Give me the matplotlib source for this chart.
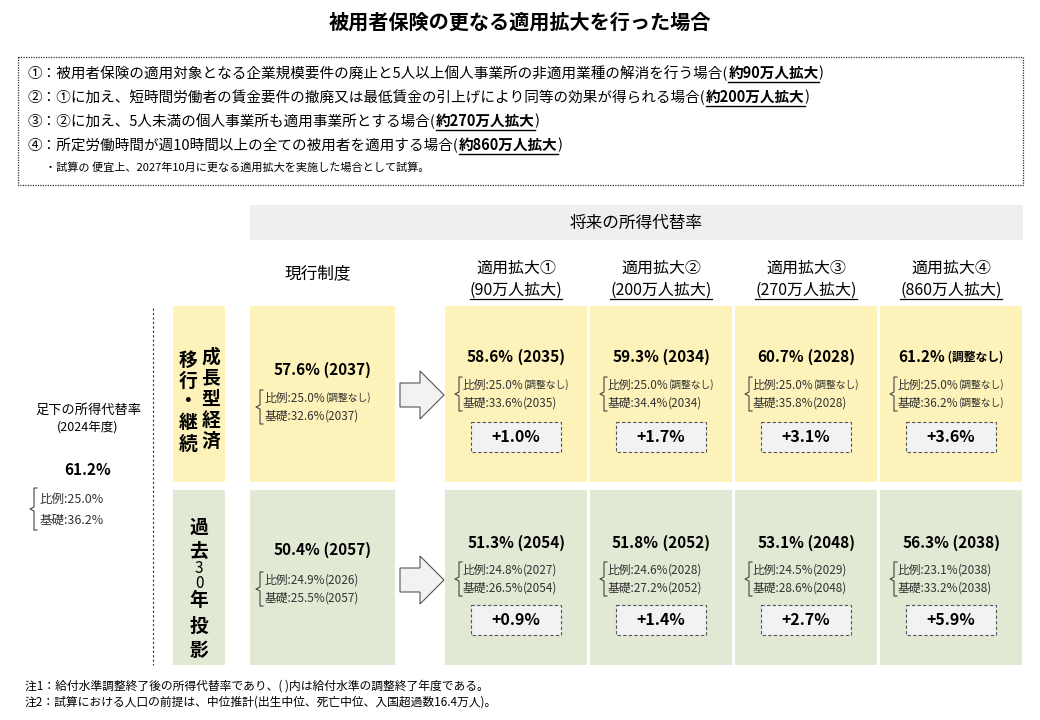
import matplotlib
matplotlib.use("Agg")
import matplotlib.pyplot as plt
from matplotlib.patches import Rectangle, Polygon
from matplotlib.transforms import IdentityTransform, blended_transform_factory

plt.rcParams['font.family'] = ['Noto Sans CJK JP', 'DejaVu Sans']

title = "被用者保険の更なる適用拡大を行った場合"
conditions = [
    ("①：被用者保険の適用対象となる企業規模要件の廃止と5人以上個人事業所の非適用業種の解消を行う場合(", "約90万人拡大", ")"),
    ("②：①に加え、短時間労働者の賃金要件の撤廃又は最低賃金の引上げにより同等の効果が得られる場合(", "約200万人拡大", ")"),
    ("③：②に加え、5人未満の個人事業所も適用事業所とする場合(", "約270万人拡大", ")"),
    ("④：所定労働時間が週10時間以上の全ての被用者を適用する場合(", "約860万人拡大", ")"),
]
cond_note = "・試算の 便宜上、2027年10月に更なる適用拡大を実施した場合として試算。"
col_heads = ["適用拡大①", "適用拡大②", "適用拡大③", "適用拡大④"]
col_subs = ["90万人拡大", "200万人拡大", "270万人拡大", "860万人拡大"]

cur_main = ["57.6%", "50.4%"]
cur_main_yr = ["(2037)", "(2057)"]
cur_hirei = [("25.0%", "(調整なし)"), ("24.9%", "(2026)")]
cur_kiso = [("32.6%", "(2037)"), ("25.5%", "(2057)")]

main_val = [["58.6%", "59.3%", "60.7%", "61.2%"], ["51.3%", "51.8%", "53.1%", "56.3%"]]
main_yr = [["(2035)", "(2034)", "(2028)", "(調整なし)"], ["(2054)", "(2052)", "(2048)", "(2038)"]]
hirei_val = [["25.0%"] * 4, ["24.8%", "24.6%", "24.5%", "23.1%"]]
hirei_yr = [["(調整なし)"] * 4, ["(2027)", "(2028)", "(2029)", "(2038)"]]
kiso_val = [["33.6%", "34.4%", "35.8%", "36.2%"], ["26.5%", "27.2%", "28.6%", "33.2%"]]
kiso_yr = [["(2035)", "(2034)", "(2028)", "(調整なし)"], ["(2054)", "(2052)", "(2048)", "(2038)"]]
diffs = [["+1.0%", "+1.7%", "+3.1%", "+3.6%"], ["+0.9%", "+1.4%", "+2.7%", "+5.9%"]]

base_rate = "61.2%"
base_hirei = "比例:25.0%"
base_kiso = "基礎:36.2%"
notes = ["注1：給付水準調整終了後の所得代替率であり、( )内は給付水準の調整終了年度である。",
         "注2：試算における人口の前提は、中位推計(出生中位、死亡中位、入国超過数16.4万人)。"]

YEL = "#fdf2b9"
GRN = "#e1e8d3"

fig = plt.figure(figsize=(10.4, 7.2), dpi=100)
ax = fig.add_axes([0, 0, 1, 1])
ax.set_xlim(0, 1040)
ax.set_ylim(720, 0)
ax.axis("off")
fig.canvas.draw()
I = IdentityTransform()

ax.text(520, 22, title, ha="center", va="center", fontsize=14.5, fontweight="bold")
ax.add_patch(Rectangle((18, 57), 1005, 128, fill=False, ls=(0, (1, 1)), lw=0.9, ec="#333"))
for i, (a, b, c) in enumerate(conditions):
    y = 73 + i * 24
    py = ax.transData.transform((0, y))[1]
    t = ax.text(28, y, a, ha="left", va="center", fontsize=10.5)
    fig.canvas.draw()
    x1 = t.get_window_extent().x1
    t2 = ax.text(x1, py, b, ha="left", va="center", fontsize=10.5, fontweight="bold", transform=I)
    fig.canvas.draw()
    bb2 = t2.get_window_extent()
    ax.plot([bb2.x0, bb2.x1], [y + 9, y + 9], color="k", lw=1,
            transform=blended_transform_factory(I, ax.transData))
    ax.text(bb2.x1, py, c, ha="left", va="center", fontsize=10.5, transform=I)
ax.text(45, 167, cond_note, ha="left", va="center", fontsize=8)

ax.add_patch(Rectangle((250, 205), 773, 35, fc="#efefef", ec="none"))
ax.text(636, 223, "将来の所得代替率", ha="center", va="center", fontsize=12)
ax.text(318, 274, "現行制度", ha="center", va="center", fontsize=12)

col_x = [445, 590, 735, 880]
col_w = 142
for j in range(4):
    cx = col_x[j] + col_w / 2
    ax.text(cx, 268, col_heads[j], ha="center", va="center", fontsize=11.5)
    t = ax.text(cx, 290, "(" + col_subs[j] + ")", ha="center", va="center", fontsize=11.5)
    fig.canvas.draw()
    bb = t.get_window_extent()
    ax.plot([bb.x0, bb.x1], [299, 299], color="k", lw=0.9,
            transform=blended_transform_factory(I, ax.transData))

rows_y = [(306, 176), (490, 175)]
fills = [YEL, GRN]

ax.text(88, 410, "足下の所得代替率", ha="center", va="center", fontsize=9.5)
ax.text(88, 428, "(2024年度)", ha="center", va="center", fontsize=9)
ax.text(88, 470, base_rate, ha="center", va="center", fontsize=11, fontweight="bold")

def brace(x, y0, y1, lw=0.8):
    ym = (y0 + y1) / 2
    ax.plot([x + 5, x + 2, x + 2, x - 2, x + 2, x + 2, x + 5],
            [y0, y0, ym - 2, ym, ym + 2, y1, y1], color="#444", lw=lw)

brace(32, 488, 530)
ax.text(40, 499, base_hirei, ha="left", va="center", fontsize=9, color="#333")
ax.text(40, 520, base_kiso, ha="left", va="center", fontsize=9, color="#333")

ax.plot([153, 153], [308, 665], color="#333", lw=0.8, ls=(0, (2, 2)))

for r in range(2):
    y0, h = rows_y[r]
    ax.add_patch(Rectangle((173, y0), 52, h, fc=fills[r], ec="none"))
    ax.add_patch(Rectangle((250, y0), 145, h, fc=fills[r], ec="none"))
    for j in range(4):
        ax.add_patch(Rectangle((col_x[j], y0), col_w, h, fc=fills[r], ec="none"))

for k, ch in enumerate("成長型経済"):
    ax.text(211, 357 + k * 21, ch, ha="center", va="center", fontsize=13.5, fontweight="bold")
for k, ch in enumerate("移行・継続"):
    ax.text(188, 360 + k * 21, ch, ha="center", va="center", fontsize=13.5, fontweight="bold")
vert = ["過", "去", "30", "年", "投", "影"]
vert_y = [527, 551, 576, 601, 626, 650]
for ch, yy in zip(vert, vert_y):
    if ch == "30":
        ax.text(199, yy, "3\n0", ha="center", va="center", fontsize=11, linespacing=0.85)
    else:
        ax.text(199, yy, ch, ha="center", va="center", fontsize=13.5, fontweight="bold")

def main_label(cx, y, val, yr):
    small = yr == "(調整なし)"
    t1 = ax.text(0, 0, val, fontsize=11, fontweight="bold")
    t2 = ax.text(0, 0, " " + yr, fontsize=8.5 if small else 11, fontweight="bold")
    fig.canvas.draw()
    w1 = t1.get_window_extent().width
    w2 = t2.get_window_extent().width
    pcx, py = ax.transData.transform((cx, y))
    x0 = pcx - (w1 + w2) / 2
    for t, xx in ((t1, x0), (t2, x0 + w1)):
        t.set_transform(I)
        t.set_position((xx, py))
        t.set_va("center")
        t.set_ha("left")

cur_layout = [(370, 398, 416), (550, 580, 598)]
for r in range(2):
    ym, yh, yk = cur_layout[r]
    main_label(322, ym, cur_main[r], cur_main_yr[r])
    brace(258, yh - 8, yk + 8)
    ax.text(265, yh, "比例:" + cur_hirei[r][0], ha="left", va="center", fontsize=8.5, color="#333")
    ax.text(325, yh, cur_hirei[r][1], ha="left", va="center", fontsize=7 if r == 0 else 8.5, color="#333")
    ax.text(265, yk, "基礎:" + cur_kiso[r][0], ha="left", va="center", fontsize=8.5, color="#333")
    ax.text(325, yk, cur_kiso[r][1], ha="left", va="center", fontsize=8.5, color="#333")
    ac = 395 if r == 0 else 580
    pts = [(400, ac - 12), (420, ac - 12), (420, ac - 24), (444, ac), (420, ac + 24), (420, ac + 12), (400, ac + 12)]
    ax.add_patch(Polygon(pts, closed=True, fc="#f2f2f2", ec="#555", lw=0.8))

scen_layout = [(357, 385, 403, 437), (543, 570, 588, 620)]
for r in range(2):
    ym, yh, yk, yd = scen_layout[r]
    for j in range(4):
        x0 = col_x[j]
        cx = x0 + col_w / 2
        main_label(cx, ym, main_val[r][j], main_yr[r][j])
        brace(x0 + 12, yh - 8, yk + 8)
        ax.text(x0 + 18, yh, "比例:" + hirei_val[r][j], ha="left", va="center", fontsize=8.5, color="#333")
        ax.text(x0 + 78, yh, hirei_yr[r][j], ha="left", va="center",
                fontsize=7 if hirei_yr[r][j] == "(調整なし)" else 8.5, color="#333")
        ax.text(x0 + 18, yk, "基礎:" + kiso_val[r][j], ha="left", va="center", fontsize=8.5, color="#333")
        ax.text(x0 + 78, yk, kiso_yr[r][j], ha="left", va="center",
                fontsize=7 if kiso_yr[r][j] == "(調整なし)" else 8.5, color="#333")
        ax.add_patch(Rectangle((cx - 45, yd - 15), 90, 30, fc="#f2f2f2", ec="#555", lw=0.8, ls=(0, (3, 2))))
        ax.text(cx, yd, diffs[r][j].replace(".", ". ").replace("+", "+ ") if False else diffs[r][j],
                ha="center", va="center", fontsize=11.5, fontweight="bold")

ax.text(25, 686, notes[0], ha="left", va="center", fontsize=8.5)
ax.text(25, 702, notes[1], ha="left", va="center", fontsize=8.5)

fig.savefig("out.png", dpi=100, facecolor="white")
